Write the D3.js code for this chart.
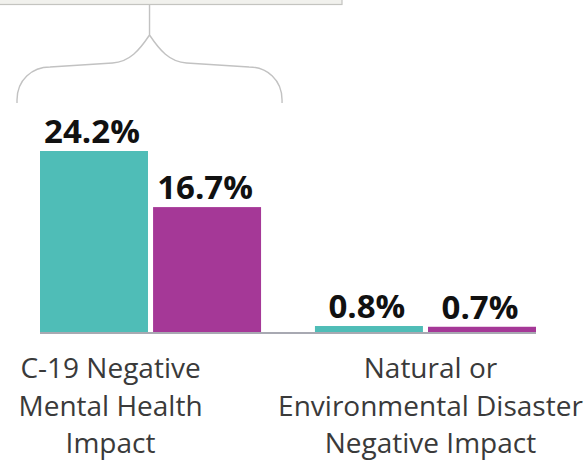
<!DOCTYPE html>
<html lang="en">
<head>
  <meta charset="UTF-8">
  <title>Negative impact bars</title>
  <style>
    body { margin: 0; background: #fff; }
    svg { display: block; }
    .val { font: 700 33px "Open Sans", sans-serif; fill: #111; }
    .cat { font: 400 28px "Open Sans", sans-serif; fill: #3a3a3a; }
  </style>
</head>
<body>
  <svg width="587" height="460"></svg>
  <script src="https://cdn.jsdelivr.net/npm/d3@7"></script>
  <script>
    // data
    const categories = [
      ["C-19 Negative", "Mental Health", "Impact"],
      ["Natural or", "Environmental Disaster", "Negative Impact"]
    ];
    const series = ["Series 1", "Series 2"];
    const values = [
      [24.2, 16.7],
      [0.8, 0.7]
    ];
    const colors = ["#4fbdb7", "#a53897"];

    const svg = d3.select("svg");
    const baseY = 332;

    const x0 = d3.scaleBand()
      .domain(d3.range(categories.length))
      .range([40, 536])
      .paddingInner(0.196);

    const x1 = d3.scaleBand()
      .domain(series)
      .range([0, x0.bandwidth()])
      .paddingInner(0.045);

    const y = d3.scaleLinear()
      .domain([0, d3.max(values.flat())])
      .range([baseY, 151]);

    // cropped box at the top
    svg.append("rect")
      .attr("x", -2).attr("y", -2)
      .attr("width", 344).attr("height", 6.5)
      .attr("fill", "#f1f1ed")
      .attr("stroke", "#c4c4c0")
      .attr("stroke-width", 1.2);

    // brace over first group
    const bl = x0(0) - 23, br = x0(0) + x0.bandwidth() + 21, bc = (bl + br) / 2;
    const brace = d3.path();
    brace.moveTo(bc, 5); brace.lineTo(bc, 35);
    brace.moveTo(bc, 35);
    brace.bezierCurveTo(bc - 10, 50, bc - 20, 62, bc - 37, 63);
    brace.lineTo(bl + 33, 67);
    brace.bezierCurveTo(bl + 15, 67, bl, 80, bl, 100);
    brace.lineTo(bl, 103);
    brace.moveTo(bc, 35);
    brace.bezierCurveTo(bc + 10, 50, bc + 20, 62, bc + 37, 63);
    brace.lineTo(br - 33, 67);
    brace.bezierCurveTo(br - 15, 67, br, 80, br, 100);
    brace.lineTo(br, 103);
    svg.append("path")
      .attr("d", brace.toString())
      .attr("fill", "none")
      .attr("stroke", "#c2c2c2")
      .attr("stroke-width", 1.4);

    // bars
    const group = svg.append("g").selectAll("g")
      .data(values)
      .join("g")
      .attr("transform", (d, i) => `translate(${x0(i)},0)`);

    group.selectAll("rect")
      .data(d => d.map((v, j) => ({ v, s: series[j], j })))
      .join("rect")
      .attr("x", d => x1(d.s))
      .attr("y", d => y(d.v))
      .attr("width", x1.bandwidth())
      .attr("height", d => baseY - y(d.v))
      .attr("fill", d => colors[d.j]);

    group.selectAll("text.val")
      .data(d => d.map((v, j) => ({ v, s: series[j], j })))
      .join("text")
      .attr("class", "val")
      .attr("x", d => x1(d.s) + x1.bandwidth() / 2 - 2)
      .attr("y", d => y(d.v) - 8)
      .attr("text-anchor", "middle")
      .text(d => d.v.toFixed(1) + "%");

    // axis line
    svg.append("line")
      .attr("x1", x0(0)).attr("x2", x0(1) + x0.bandwidth())
      .attr("y1", baseY + 1).attr("y2", baseY + 1)
      .attr("stroke", "#8b8d98")
      .attr("stroke-width", 1.6);

    // category labels
    svg.append("g").selectAll("text")
      .data(categories)
      .join("text")
      .attr("class", "cat")
      .attr("text-anchor", "middle")
      .attr("x", (d, i) => x0(i) + x0.bandwidth() / 2 + (i === 0 ? -40 : 5))
      .attr("y", 378)
      .selectAll("tspan")
      .data(d => d)
      .join("tspan")
      .attr("x", function() { return this.parentNode.getAttribute("x"); })
      .attr("dy", (d, i) => i === 0 ? 0 : 37.5)
      .text(d => d);
  </script>
</body>
</html>
